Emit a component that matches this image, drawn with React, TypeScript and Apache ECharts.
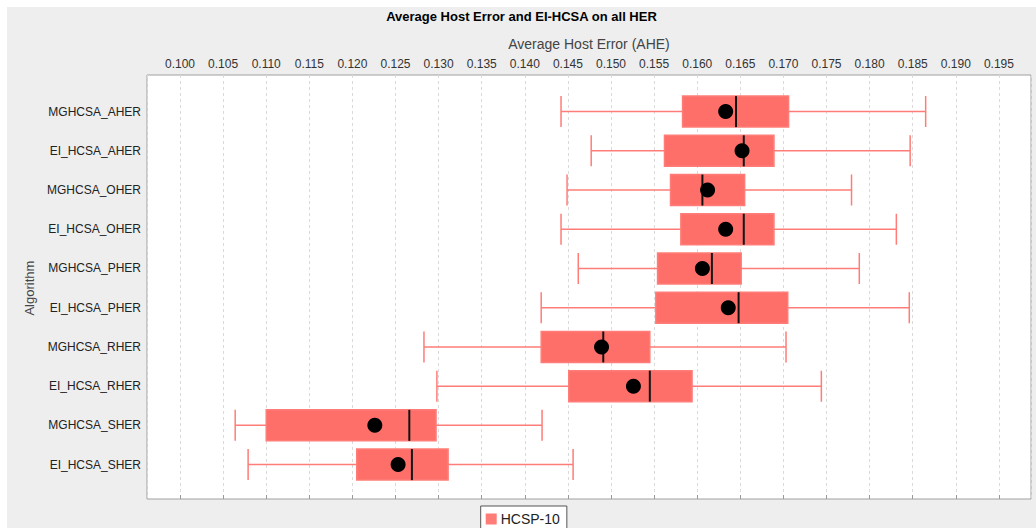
import React, { useEffect, useRef } from 'react';
import * as echarts from 'echarts';

const categories = [
  'MGHCSA_AHER', 'EI_HCSA_AHER', 'MGHCSA_OHER', 'EI_HCSA_OHER', 'MGHCSA_PHER',
  'EI_HCSA_PHER', 'MGHCSA_RHER', 'EI_HCSA_RHER', 'MGHCSA_SHER', 'EI_HCSA_SHER',
];
const mins = [0.1442, 0.1477, 0.1449, 0.1442, 0.1462, 0.1419, 0.1283, 0.1298, 0.1064, 0.1079];
const q1s = [0.1583, 0.1562, 0.1569, 0.1581, 0.1554, 0.1552, 0.1419, 0.1451, 0.1100, 0.1205];
const medians = [0.1645, 0.1654, 0.1606, 0.1654, 0.1617, 0.1648, 0.1491, 0.1545, 0.1266, 0.1269];
const q3s = [0.1706, 0.1689, 0.1655, 0.1689, 0.1651, 0.1705, 0.1545, 0.1594, 0.1297, 0.1311];
const maxs = [0.1865, 0.1847, 0.1779, 0.1831, 0.1788, 0.1846, 0.1703, 0.1744, 0.1420, 0.1456];
const means = [0.1633, 0.1652, 0.1612, 0.1633, 0.1606, 0.1636, 0.1489, 0.1526, 0.1226, 0.1253];

const seriesName = 'HCSP-10';
const title = 'Average Host Error and EI-HCSA on all HER';
const xName = 'Average Host Error (AHE)';
const yName = 'Algorithm';
const xMin = 0.09617;
const xMax = 0.19872;
const tickStep = 0.005;

const FONT = 'Liberation Sans';

export default function App() {
  const ref = useRef<HTMLDivElement>(null);
  useEffect(() => {
    const chart = echarts.init(ref.current!, null, { renderer: 'svg' });
    const boxData = categories.map((_, i) => [mins[i], q1s[i], medians[i], q3s[i], maxs[i]]);
    chart.setOption({
      animation: false,
      backgroundColor: '#eeeeee',
      textStyle: { fontFamily: FONT },
      title: {
        text: title,
        left: 'center',
        top: 3,
        padding: 0,
        textStyle: { fontFamily: FONT, fontSize: 13, fontWeight: 'bold', color: '#000' },
      },
      legend: {
        data: [seriesName],
        left: 473.7,
        top: 499,
        orient: 'horizontal',
        padding: [6, 7, 6, 5],
        itemWidth: 9,
        itemHeight: 9,
        icon: 'rect',
        borderColor: '#555',
        borderWidth: 1,
        backgroundColor: '#fff',
        borderRadius: 0,
        textStyle: { fontFamily: FONT, fontSize: 14, color: '#222', padding: [0, 0, 0, 0] },
      },
      grid: [
        {
          left: 140, right: 5, top: 68, bottom: 29,
          show: true, backgroundColor: '#fff', borderColor: '#a0a0a0', borderWidth: 1,
        },
        { left: 140, right: 5, top: 85, bottom: 43.8 },
      ],
      xAxis: [
        {
          gridIndex: 0,
          type: 'value',
          position: 'top',
          min: xMin,
          max: xMax,
          splitNumber: 20,
          minInterval: tickStep,
          maxInterval: tickStep,
          name: xName,
          nameLocation: 'middle',
          nameGap: 24,
          nameTextStyle: { fontFamily: FONT, fontSize: 14, color: '#444' },
          axisLine: { show: false },
          axisTick: { show: true, length: 4, lineStyle: { color: '#999' } },
          axisLabel: {
            fontFamily: FONT,
            fontSize: 12,
            color: '#333',
            margin: 5,
            showMinLabel: false,
            showMaxLabel: false,
            formatter: (v: number) => {
              const k = Math.round(v / tickStep);
              return Math.abs(k * tickStep - v) < 1e-7 ? v.toFixed(3) : '';
            },
          },
          splitLine: { show: true, lineStyle: { color: '#dadada', type: [3, 3], width: 1 } },
        },
        {
          gridIndex: 1,
          type: 'value',
          min: xMin,
          max: xMax,
          show: false,
          splitLine: { show: false },
        },
      ],
      yAxis: [
        {
          gridIndex: 0,
          type: 'value',
          show: false,
          splitLine: { show: false },
        },
        {
          gridIndex: 1,
          type: 'category',
          data: categories,
          inverse: true,
          name: yName,
          nameLocation: 'middle',
          nameGap: 106,
          nameRotate: 90,
          nameTextStyle: { fontFamily: FONT, fontSize: 13, color: '#444' },
          axisLine: { show: false },
          axisTick: { show: false },
          axisLabel: { fontFamily: FONT, fontSize: 12, color: '#222', margin: 6 },
          splitLine: { show: false },
        },
      ],
      series: [
        {
          name: seriesName,
          type: 'boxplot',
          xAxisIndex: 1,
          yAxisIndex: 1,
          boxWidth: [31, 31],
          data: boxData,
          itemStyle: { color: '#ff6f6a', borderColor: '#ff7d78', borderWidth: 1.5 },
          emphasis: { disabled: true },
        },
        {
          name: 'median',
          type: 'scatter',
          xAxisIndex: 1,
          yAxisIndex: 1,
          symbol: 'rect',
          symbolSize: [2, 31],
          itemStyle: { color: '#111', opacity: 1 },
          data: categories.map((c, i) => [medians[i], c]),
          z: 3,
        },
        {
          name: 'mean',
          type: 'scatter',
          xAxisIndex: 1,
          yAxisIndex: 1,
          symbol: 'circle',
          symbolSize: 15,
          itemStyle: { color: '#000', opacity: 1 },
          data: categories.map((c, i) => [means[i], c]),
          z: 4,
        },
      ],
    });
    return () => chart.dispose();
  }, []);
  return (
    <div style={{ position: 'fixed', left: 0, top: 0, width: 1036, height: 528, background: '#fff' }}>
      <div ref={ref} style={{ position: 'absolute', left: 7, top: 7, width: 1029, height: 521 }} />
    </div>
  );
}
